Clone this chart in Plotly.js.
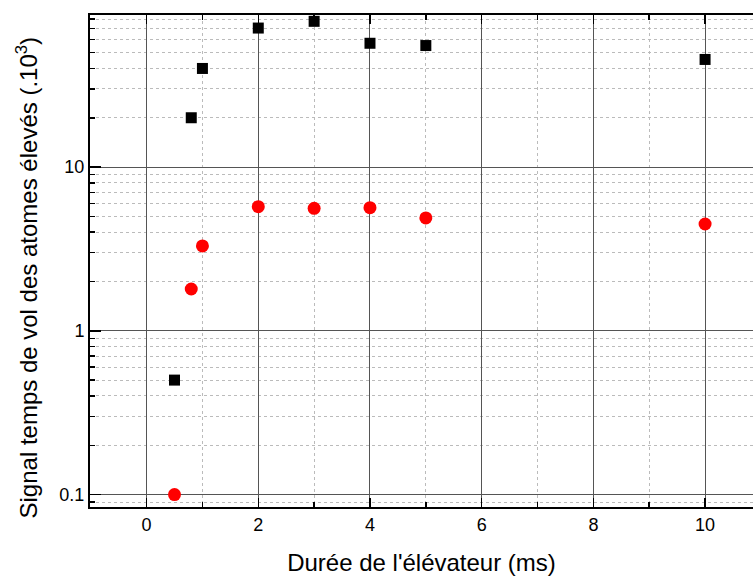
<!DOCTYPE html>
<html>
<head>
<meta charset="utf-8">
<script src="https://cdn.plot.ly/plotly-3.0.1.min.js"></script>
<style>html,body{margin:0;padding:0;background:#fff;}#chart{width:753px;height:576px;}</style>
</head>
<body>
<div id="chart"></div>
<script>
// Durée de l'élévateur (ms)
const duree = [0.5, 0.8, 1, 2, 3, 4, 5, 10];
// Black squares series (.10^3)
const signalNoir = [0.50, 20, 40, 70.6, 77.6, 57, 55.2, 45.4];
// Red circles series (.10^3)
const signalRouge = [0.10, 1.80, 3.30, 5.73, 5.60, 5.65, 4.89, 4.49];
const yTickVals = [0.1, 1, 10];
const yTickText = ['0.1', '1', '10'];
const xTickVals = [0, 2, 4, 6, 8, 10];
const yMinorVals = [0.09, 0.2, 0.3, 0.4, 0.5, 0.6, 0.7, 0.8, 0.9, 2, 3, 4, 5, 6, 7, 8, 9, 20, 30, 40, 50, 60, 70, 80];
const xTitle = "Durée de l'élévateur (ms)";
const yTitle = 'Signal temps de vol des atomes élevés (.10<sup>3</sup>)';

const traces = [
  {x: duree, y: signalNoir, type: 'scatter', mode: 'markers',
   marker: {symbol: 'square', size: 11, color: '#000', line: {width: 0}}, hoverinfo: 'x+y'},
  {x: duree, y: signalRouge, type: 'scatter', mode: 'markers',
   marker: {symbol: 'circle', size: 13, color: '#ff0000', line: {width: 0}}, hoverinfo: 'x+y'}
];

const layout = {
  width: 753, height: 576,
  margin: {l: 90, r: 0, t: 15, b: 69},
  paper_bgcolor: '#fff', plot_bgcolor: '#fff',
  showlegend: false,
  font: {family: 'Liberation Sans, Arial, sans-serif', color: '#000'},
  xaxis: {
    range: [-1.013, 10.858],
    tickmode: 'array', tickvals: xTickVals,
    ticks: 'inside', ticklen: 9, tickwidth: 1.5, tickcolor: '#000',
    showline: true, linewidth: 2, linecolor: '#000', mirror: 'ticks',
    showgrid: true, gridcolor: '#555', gridwidth: 1,
    zeroline: false,
    tickfont: {size: 18},
    minor: {dtick: 1, tick0: 0, ticks: 'inside', ticklen: 5, tickcolor: '#000', showgrid: true, gridcolor: '#bbbbbb', griddash: 'dot', gridwidth: 1},
    title: {text: xTitle, font: {size: 24}, standoff: 23}
  },
  yaxis: {
    type: 'log',
    range: [-1.076, 1.9285],
    tickmode: 'array', tickvals: yTickVals, ticktext: yTickText,
    ticks: 'inside', ticklen: 11, tickwidth: 1.5, tickcolor: '#000',
    showline: true, linewidth: 2, linecolor: '#000', mirror: false,
    showgrid: true, gridcolor: '#555', gridwidth: 1,
    zeroline: false,
    tickfont: {size: 18},
    minor: {tickmode: 'array', tickvals: yMinorVals, ticks: 'inside', ticklen: 5, tickcolor: '#000', showgrid: true, gridcolor: '#bbbbbb', griddash: 'dot', gridwidth: 1},
    title: {text: ''}
  },
  annotations: [{
    text: yTitle, textangle: -90, showarrow: false,
    xref: 'paper', yref: 'paper', x: -0.095, y: 0.4665,
    xanchor: 'center', yanchor: 'middle',
    font: {size: 24, color: '#000'}
  }]
};

Plotly.newPlot('chart', traces, layout, {displayModeBar: false, staticPlot: true});
</script>
</body>
</html>
